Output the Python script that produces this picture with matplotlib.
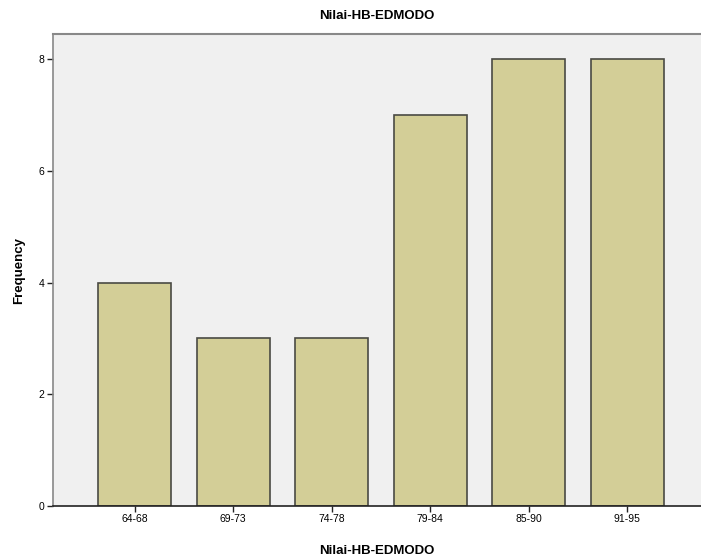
import matplotlib
matplotlib.use("Agg")
import matplotlib.pyplot as plt

plt.rcParams["font.family"] = ["Liberation Sans", "DejaVu Sans"]

# score ranges and how many students fell in each
categories = ["64-68", "69-73", "74-78", "79-84", "85-90", "91-95"]
frequency = [4, 3, 3, 7, 8, 8]
y_ticks = [0, 2, 4, 6, 8]

fig = plt.figure(figsize=(7.01, 5.59), dpi=100)
ax = fig.add_axes([53 / 701, 53 / 559, 1 - 53 / 701, (506 - 34) / 559])
ax.set_facecolor("#f0f0f0")

ax.bar(range(len(categories)), frequency, width=0.74,
       color="#d3ce97", edgecolor="#4a4a44", linewidth=1.2, zorder=2)

ax.set_xlim(-0.83, 5.75)
ax.set_ylim(0, 8.45)
ax.set_xticks(range(len(categories)))
ax.set_xticklabels(categories)
ax.set_yticks(y_ticks)
ax.tick_params(labelsize=7.5, length=4, width=1, color="#222222", pad=2)

ax.spines["right"].set_visible(False)
ax.spines["top"].set_color("#888888")
ax.spines["top"].set_linewidth(1.5)
ax.spines["left"].set_color("#888888")
ax.spines["left"].set_linewidth(1.2)
ax.spines["bottom"].set_color("#222222")
ax.spines["bottom"].set_linewidth(1.2)

ax.set_title("Nilai-HB-EDMODO", fontsize=9.5, fontweight="bold", pad=11)
ax.set_xlabel("Nilai-HB-EDMODO", fontsize=9.5, fontweight="bold", labelpad=15)
ax.set_ylabel("Frequency", fontsize=9.5, fontweight="bold", labelpad=10)

fig.savefig("out.png", dpi=100)
